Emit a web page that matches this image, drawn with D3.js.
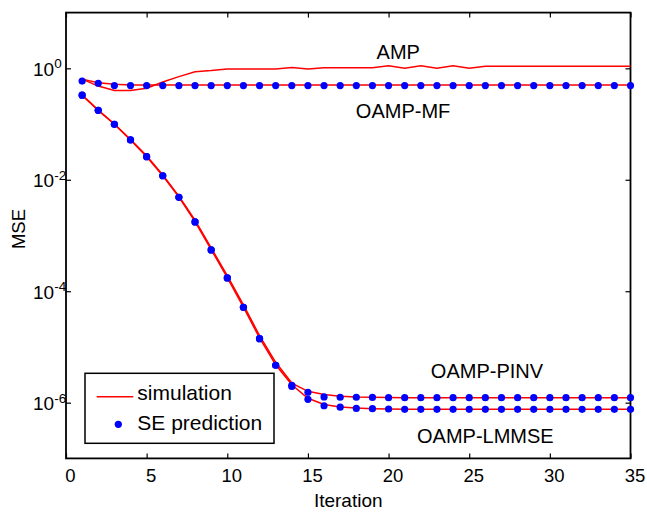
<!DOCTYPE html>
<html>
<head>
<meta charset="utf-8">
<script src="https://cdn.jsdelivr.net/npm/d3@7"></script>
<style>
  body { margin: 0; background: #fff; }
  text { font-family: Arial, "Liberation Sans", Helvetica, sans-serif; fill: #000; }
</style>
</head>
<body>
<div class="chart"></div>
<script>
// Iteration index
var iterations = [1,2,3,4,5,6,7,8,9,10,11,12,13,14,15,16,17,18,19,20,21,22,23,24,25,26,27,28,29,30,31,32,33,34,35];

// simulation curves (red lines)
var ampSim   = [0.64,0.48,0.40,0.40,0.44,0.57,0.71,0.87,0.91,0.97,0.97,0.97,0.97,1.03,0.97,1.02,1.02,1.02,1.02,1.11,1.00,1.11,1.00,1.11,1.00,1.09,1.09,1.09,1.09,1.09,1.09,1.09,1.09,1.09,1.09];
var mfSim    = [0.64,0.55,0.52,0.50,0.50,0.50,0.50,0.50,0.50,0.50,0.50,0.50,0.50,0.50,0.50,0.50,0.50,0.50,0.50,0.50,0.50,0.50,0.50,0.50,0.50,0.50,0.50,0.50,0.50,0.50,0.50,0.50,0.50,0.50,0.50];
var pinvSim  = [0.33,0.178,0.100,0.053,0.027,0.0122,0.0051,0.00188,6.0e-4,1.9e-4,5.7e-5,1.6e-5,5.3e-6,2.25e-6,1.6e-6,1.4e-6,1.3e-6,1.26e-6,1.25e-6,1.24e-6,1.23e-6,1.23e-6,1.23e-6,1.23e-6,1.23e-6,1.23e-6,1.23e-6,1.23e-6,1.23e-6,1.23e-6,1.23e-6,1.23e-6,1.23e-6,1.23e-6,1.23e-6];
var lmmseSim = [0.33,0.176,0.099,0.052,0.026,0.0118,0.0049,0.00178,5.6e-4,1.75e-4,5.2e-5,1.45e-5,4.8e-6,2.1e-6,1.2e-6,0.93e-6,0.84e-6,0.80e-6,0.78e-6,0.77e-6,0.76e-6,0.76e-6,0.76e-6,0.76e-6,0.76e-6,0.76e-6,0.76e-6,0.76e-6,0.76e-6,0.76e-6,0.76e-6,0.76e-6,0.76e-6,0.76e-6,0.76e-6];

// state evolution predictions (blue dots)
var mfSE     = [0.59,0.54,0.49,0.49,0.49,0.49,0.49,0.49,0.49,0.49,0.49,0.49,0.49,0.49,0.49,0.49,0.49,0.49,0.49,0.49,0.49,0.49,0.49,0.49,0.49,0.49,0.49,0.49,0.49,0.49,0.49,0.49,0.49,0.49,0.49];
var pinvSE   = [0.33,0.176,0.099,0.052,0.026,0.0118,0.00484,0.00175,5.5e-4,1.73e-4,5.15e-5,1.41e-5,4.69e-6,2.05e-6,1.54e-6,1.27e-6,1.25e-6,1.25e-6,1.24e-6,1.23e-6,1.23e-6,1.23e-6,1.23e-6,1.23e-6,1.23e-6,1.23e-6,1.23e-6,1.23e-6,1.23e-6,1.23e-6,1.23e-6,1.23e-6,1.23e-6,1.23e-6,1.23e-6];
var lmmseSE  = [0.33,0.176,0.099,0.052,0.026,0.0118,0.00484,0.00175,5.5e-4,1.73e-4,5.15e-5,1.41e-5,4.69e-6,1.95e-6,1.15e-6,0.88e-6,0.83e-6,0.79e-6,0.78e-6,0.77e-6,0.76e-6,0.76e-6,0.76e-6,0.76e-6,0.76e-6,0.76e-6,0.76e-6,0.76e-6,0.76e-6,0.76e-6,0.76e-6,0.76e-6,0.76e-6,0.76e-6,0.76e-6];

// ticks
var xTicks = [0,5,10,15,20,25,30,35];
var yTickExps = [0,-2,-4,-6];

// curve labels: [text, iteration, MSE at baseline]
var curveLabels = [
  ["AMP", 20.6, 1.45],
  ["OAMP-MF", 20.9, 0.127],
  ["OAMP-PINV", 26.1, 2.74e-6],
  ["OAMP-LMMSE", 26.0, 1.91e-7]
];

var svgWidth = 647, svgHeight = 513;
var margin = { top: 12.6, right: 16.5, bottom: 54.6, left: 66 };
var width = svgWidth - margin.left - margin.right;
var height = svgHeight - margin.top - margin.bottom;

var svg = d3.select(".chart").append("svg")
  .attr("width", svgWidth)
  .attr("height", svgHeight);

var chartGroup = svg.append("g")
  .attr("transform", `translate(${margin.left}, ${margin.top})`);

var xScale = d3.scaleLinear().domain([0, 35]).range([0, width]);
var yScale = d3.scaleLog().domain([1e-7, 1e1]).range([height, 0]);

var tickLen = 5;

// axes (inner ticks on all four sides)
chartGroup.append("g")
  .attr("transform", `translate(0, ${height})`)
  .call(d3.axisBottom(xScale).tickValues(xTicks).tickSizeInner(-tickLen).tickSizeOuter(0).tickPadding(10))
  .call(g => g.select(".domain").remove())
  .call(g => g.selectAll("text").attr("font-size", 18.5).attr("dx", 4).attr("font-family", "Arial, 'Liberation Sans', sans-serif"));

chartGroup.append("g")
  .call(d3.axisTop(xScale).tickValues(xTicks).tickSizeInner(-tickLen).tickSizeOuter(0).tickFormat(""))
  .call(g => g.select(".domain").remove());

var yTickVals = yTickExps.map(e => Math.pow(10, e));

chartGroup.append("g")
  .call(d3.axisLeft(yScale).tickValues(yTickVals).tickSizeInner(-tickLen).tickSizeOuter(0).tickFormat(""))
  .call(g => g.select(".domain").remove());

chartGroup.append("g")
  .attr("transform", `translate(${width}, 0)`)
  .call(d3.axisRight(yScale).tickValues(yTickVals).tickSizeInner(-tickLen).tickSizeOuter(0).tickFormat(""))
  .call(g => g.select(".domain").remove());

chartGroup.selectAll(".tick line").attr("stroke", "#000").attr("stroke-width", 1.2);

// y tick labels as 10^e
var yLabels = chartGroup.append("g").selectAll("text")
  .data(yTickExps)
  .enter()
  .append("text")
  .attr("x", -33)
  .attr("y", d => yScale(Math.pow(10, d)) + 7.5)
  .attr("font-size", 19);
yLabels.append("tspan").text("10");
yLabels.append("tspan")
  .attr("font-size", 13.5)
  .attr("dy", -7.5)
  .text(d => d === 0 ? "0" : "-" + Math.abs(d));

// box
chartGroup.append("rect")
  .attr("width", width)
  .attr("height", height)
  .attr("fill", "none")
  .attr("stroke", "#000")
  .attr("stroke-width", 1.8);

// axis labels
chartGroup.append("text")
  .attr("x", width / 2)
  .attr("y", height + 49)
  .attr("text-anchor", "middle")
  .attr("font-size", 19)
  .text("Iteration");

chartGroup.append("text")
  .attr("transform", "rotate(-90)")
  .attr("x", -(229 - margin.top))
  .attr("y", 25 - margin.left)
  .attr("text-anchor", "middle")
  .attr("font-size", 18.5)
  .text("MSE");

// simulation lines
var line = d3.line()
  .x((d, i) => xScale(iterations[i]))
  .y(d => yScale(d));

[ampSim, mfSim, pinvSim, lmmseSim].forEach(function(series) {
  chartGroup.append("path")
    .datum(series)
    .attr("fill", "none")
    .attr("stroke", "#ff0000")
    .attr("stroke-width", 1.5)
    .attr("d", line);
});

// SE prediction dots
[mfSE, pinvSE, lmmseSE].forEach(function(series) {
  chartGroup.append("g")
    .selectAll("circle")
    .data(series)
    .enter()
    .append("circle")
    .attr("cx", (d, i) => xScale(iterations[i]))
    .attr("cy", d => yScale(d))
    .attr("r", 3.6)
    .attr("fill", "#0000ff");
});

// curve labels
chartGroup.append("g").selectAll("text")
  .data(curveLabels)
  .enter()
  .append("text")
  .attr("x", d => xScale(d[1]))
  .attr("y", d => yScale(d[2]))
  .attr("text-anchor", "middle")
  .attr("font-size", 20)
  .text(d => d[0]);

// legend
var legend = svg.append("g").attr("transform", "translate(85, 373.3)");
legend.append("rect")
  .attr("width", 189)
  .attr("height", 70)
  .attr("fill", "#fff")
  .attr("stroke", "#000")
  .attr("stroke-width", 1.5);
legend.append("line")
  .attr("x1", 11.7).attr("x2", 48.3)
  .attr("y1", 23.4).attr("y2", 23.4)
  .attr("stroke", "#ff0000")
  .attr("stroke-width", 1.5);
legend.append("text")
  .attr("x", 52.3).attr("y", 27)
  .attr("font-size", 21)
  .text("simulation");
legend.append("circle")
  .attr("cx", 33.3).attr("cy", 51)
  .attr("r", 3.6)
  .attr("fill", "#0000ff");
legend.append("text")
  .attr("x", 52.3).attr("y", 57)
  .attr("font-size", 21)
  .text("SE prediction");
</script>
</body>
</html>
